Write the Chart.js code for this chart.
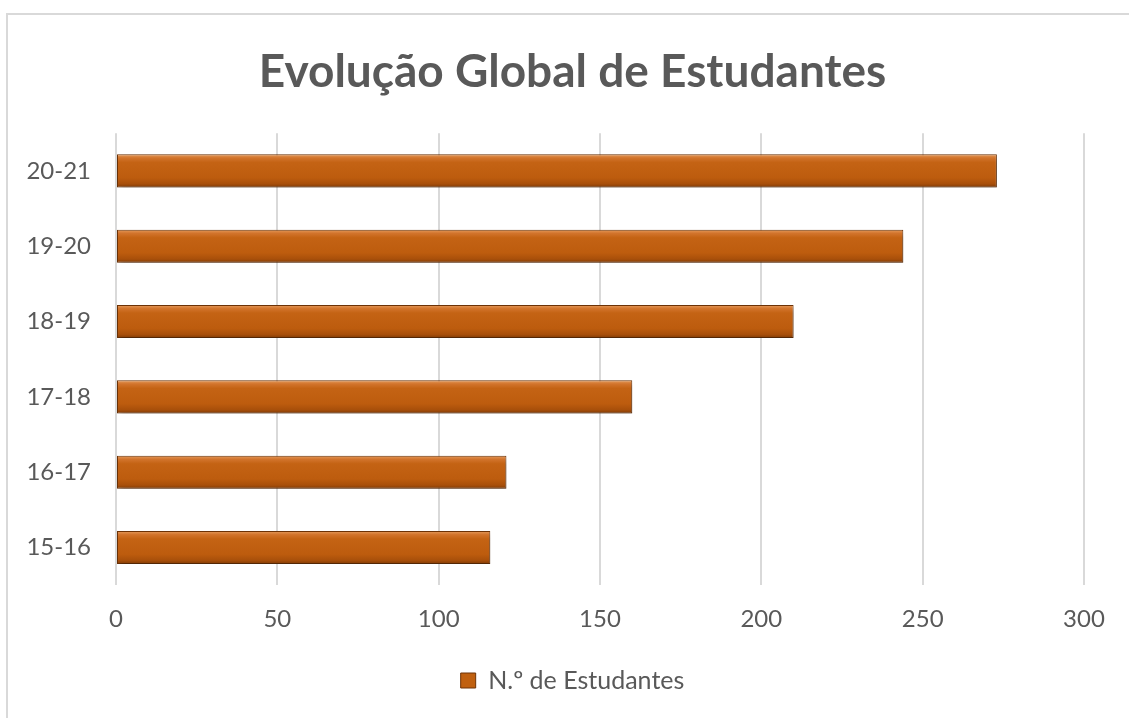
<!DOCTYPE html>
<html>
<head>
<meta charset="utf-8">
<script src="https://cdn.jsdelivr.net/npm/chart.js@4/dist/chart.umd.min.js"></script>
<style>
  html, body { margin: 0; padding: 0; background: #ffffff; }
  #wrap { position: relative; width: 1129px; height: 718px; }
  #frame { position: absolute; left: 6px; top: 13px; width: 1123px; height: 705px;
           border-top: 2px solid #d9d9d9; border-left: 2px solid #d9d9d9; box-sizing: border-box; }
  canvas { position: absolute; left: 0; top: 0; }
</style>
</head>
<body>
<div id="wrap">
  <div id="frame"></div>
  <canvas id="c" width="1129" height="718"></canvas>
</div>
<script>
const titleText = 'Evolução Global de Estudantes';
const seriesName = 'N.º de Estudantes';
const categories = ['15-16', '16-17', '17-18', '18-19', '19-20', '20-21'];
const students = [116, 121, 160, 210, 244, 273];
const xTicks = [0, 50, 100, 150, 200, 250, 300];

const textColor = '#595959';
const fontFamily = 'Lato, "Open Sans", sans-serif';

function barGradient(context) {
  const chart = context.chart;
  const area = chart.chartArea;
  if (!area || context.dataIndex === undefined) return '#C0600F';
  const y = chart.scales.y.getPixelForValue(context.dataIndex);
  const half = 17;
  const g = chart.ctx.createLinearGradient(0, y - half, 0, y + half);
  g.addColorStop(0, '#E8A265');
  g.addColorStop(0.12, '#D2742C');
  g.addColorStop(0.25, '#C46314');
  g.addColorStop(0.7, '#BD5C0E');
  g.addColorStop(0.88, '#A84F0A');
  g.addColorStop(1, '#7A3806');
  return g;
}

const shadowPlugin = {
  id: 'barShadow',
  beforeDatasetsDraw(chart) {
    const ctx = chart.ctx;
    ctx.save();
    ctx.shadowColor = 'rgba(0,0,0,0.28)';
    ctx.shadowBlur = 6;
    ctx.shadowOffsetX = 2;
    ctx.shadowOffsetY = 4;
  },
  afterDatasetsDraw(chart) {
    chart.ctx.restore();
  }
};

new Chart(document.getElementById('c'), {
  type: 'bar',
  data: {
    labels: categories,
    datasets: [{
      label: seriesName,
      data: students,
      backgroundColor: barGradient,
      borderColor: '#6E3306',
      borderWidth: 1,
      borderSkipped: false,
      categoryPercentage: 1,
      barPercentage: 0.44
    }]
  },
  plugins: [shadowPlugin],
  options: {
    indexAxis: 'y',
    responsive: false,
    animation: false,
    layout: { padding: { left: 20, right: 4, top: 0, bottom: 15 } },
    plugins: {
      title: {
        display: true,
        text: titleText,
        color: textColor,
        font: { family: fontFamily, size: 46, weight: 'bold' },
        padding: { top: 45, bottom: 33 }
      },
      legend: {
        display: true,
        position: 'bottom',
        labels: {
          color: textColor,
          font: { family: fontFamily, size: 25 },
          boxWidth: 15,
          boxHeight: 15,
          padding: 14,
          generateLabels(chart) {
            return [{
              text: seriesName,
              fillStyle: '#C0600F',
              strokeStyle: '#6E3306',
              lineWidth: 1,
              fontColor: textColor,
              datasetIndex: 0,
              hidden: false
            }];
          }
        }
      },
      tooltip: { enabled: false }
    },
    scales: {
      x: {
        type: 'linear',
        position: 'bottom',
        min: 0,
        max: 300,
        afterBuildTicks(scale) { scale.ticks = xTicks.map(v => ({ value: v })); },
        afterFit(scale) { scale.paddingRight = 45; },
        grid: { color: '#d9d9d9', lineWidth: 2, drawTicks: false },
        border: { display: false },
        ticks: {
          color: textColor,
          font: { family: fontFamily, size: 24 },
          padding: 20
        }
      },
      y: {
        type: 'category',
        reverse: true,
        afterFit(scale) { scale.width = 96; },
        grid: { display: false },
        border: { display: false },
        ticks: {
          color: textColor,
          font: { family: fontFamily, size: 24 },
          padding: 17
        }
      }
    }
  }
});
</script>
</body>
</html>
